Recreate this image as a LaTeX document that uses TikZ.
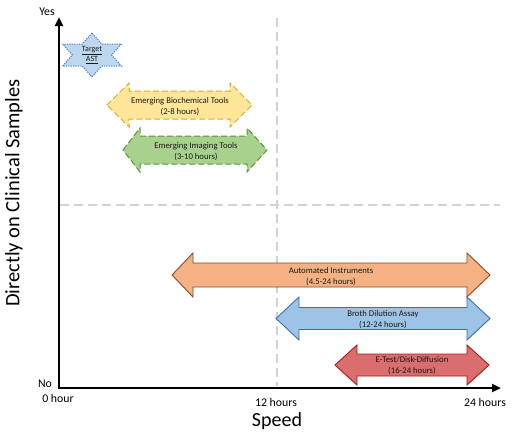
\documentclass[tikz,border=0pt]{standalone}
\usepackage{fontspec}
\setmainfont{Carlito}
\usetikzlibrary{arrows.meta}
\definecolor{yfill}{HTML}{FFE699}
\definecolor{ydraw}{HTML}{D6A92C}
\definecolor{gfill}{HTML}{A9D18E}
\definecolor{gdraw}{HTML}{5E8F3C}
\definecolor{ofill}{HTML}{F4B183}
\definecolor{odraw}{HTML}{8B4A22}
\definecolor{bfill}{HTML}{9DC3E6}
\definecolor{bdraw}{HTML}{3A70A8}
\definecolor{rfill}{HTML}{DA6D6D}
\definecolor{rdraw}{HTML}{B01818}
\definecolor{sfill}{HTML}{BDD7EE}
\definecolor{sdraw}{HTML}{4A7FC8}
\newcommand\DArrow[8]{%
  \draw[#8] ({#1},{#5}) -- ({#2},{#5-#6}) -- ({#2},{#5-#7}) -- ({#3},{#5-#7}) -- ({#3},{#5-#6}) -- ({#4},{#5})
    -- ({#3},{#5+#6}) -- ({#3},{#5+#7}) -- ({#2},{#5+#7}) -- ({#2},{#5+#6}) -- cycle;}
\tikzset{
  axis/.style={line width=2.4pt, -{Triangle[length=9pt,width=8pt]}},
  guide/.style={gray!35, line width=1.1pt, dash pattern=on 9pt off 5pt},
  lbl/.style={font=\fontsize{8.7}{11}\selectfont, align=center, text=black!90, inner sep=0pt},
  ticklbl/.style={font=\fontsize{11.8}{13}\selectfont, inner sep=0pt},
  titlelbl/.style={font=\fontsize{20}{22}\selectfont, inner sep=0pt},
  yarrow/.style={fill=yfill, draw=ydraw, line width=1pt, dash pattern=on 6pt off 3pt},
  garrow/.style={fill=gfill, draw=gdraw, line width=1pt, dash pattern=on 6pt off 3pt},
  oarrow/.style={fill=ofill, draw=odraw, line width=0.9pt},
  barrow/.style={fill=bfill, draw=bdraw, line width=0.9pt},
  rarrow/.style={fill=rfill, draw=rdraw, line width=0.9pt},
}
\begin{document}
\begin{tikzpicture}[x=1pt,y=-1pt]
\useasboundingbox (0,0) rectangle (512,434);
% coordinates
\coordinate (O) at (59,388);
\coordinate (ytop) at (59,17);
\coordinate (xend) at (501,388);
\coordinate (vtop) at (277,18);
\coordinate (vbot) at (277,386);
\coordinate (hl) at (60,205);
\coordinate (hr) at (500,205);
% guides
\draw[guide] (vtop) -- (vbot);
\draw[guide] (hl) -- (hr);
% star
\draw[fill=sfill, draw=sdraw, line width=1pt, dash pattern=on 1.2pt off 1.2pt]
  (92,33) \foreach \i in {0,...,5}{
    -- ({92+34/sqrt(3)*cos(120+60*\i)},{55-22/sqrt(3)*sin(120+60*\i)})
    -- ({92+34*cos(150+60*\i)},{55-22*sin(150+60*\i)})
  } -- cycle;
\node[lbl, font=\fontsize{8}{10}\selectfont] (target) at (92,55) {\underline{Target}\\\underline{AST}};
% arrows
\DArrow{107}{129}{230}{252}{105}{22}{14}{yarrow}
\node[lbl] (bio) at (180,107) {Emerging Biochemical Tools\\(2-8 hours)};
\DArrow{123}{140}{247}{267}{150}{22}{14}{garrow}
\node[lbl] (img) at (196,152) {Emerging Imaging Tools\\(3-10 hours)};
\DArrow{172}{193}{467}{490}{275}{22}{12}{oarrow}
\node[lbl] (auto) at (331,277) {Automated Instruments\\(4.5-24 hours)};
\DArrow{276}{299}{467}{490}{318.5}{21.5}{11}{barrow}
\node[lbl] (broth) at (383,320) {Broth Dilution Assay\\(12-24 hours)};
\DArrow{335}{357}{467}{489}{365}{20}{11}{rarrow}
\node[lbl] (etest) at (412,366) {E-Test/Disk-Diffusion\\(16-24 hours)};
% axes
\draw[axis] ([yshift=-1.2pt]O) -- (ytop);
\draw[axis] ([xshift=-1.2pt]O) -- (xend);
% labels
\node[ticklbl] (yes) at (47,12) {Yes};
\node[ticklbl] (no) at (45,384) {No};
\node[ticklbl] (zero) at (58,398) {0 hour};
\node[ticklbl] (twelve) at (276,402) {12 hours};
\node[ticklbl] (tfour) at (485,402) {24 hours};
\node[titlelbl] (speed) at (277,421) {Speed};
\node[titlelbl, font=\fontsize{20.5}{22}\selectfont, rotate=90] (direct) at (14,193) {Directly on Clinical Samples};
\end{tikzpicture}
\end{document}
